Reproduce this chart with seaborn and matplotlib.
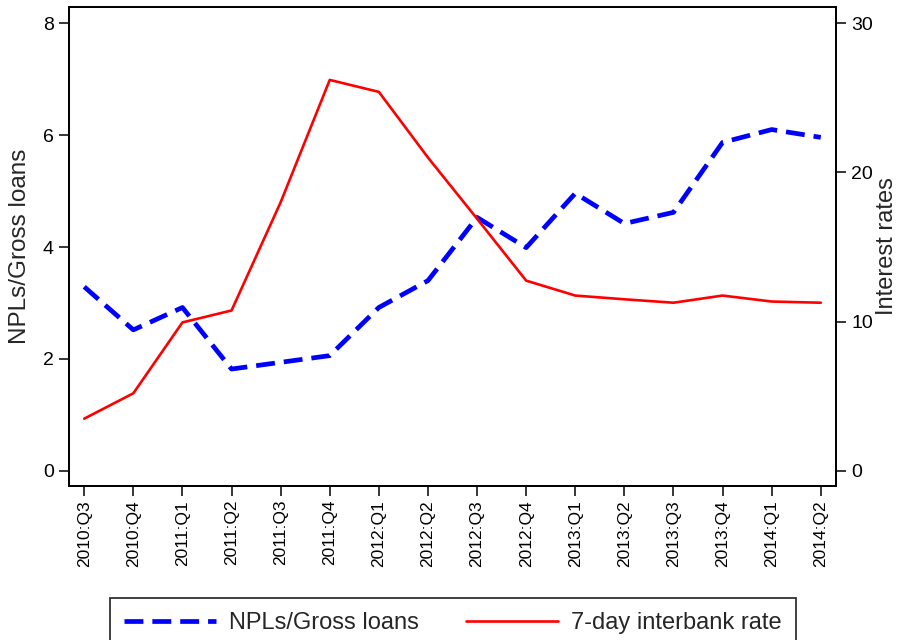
import matplotlib
matplotlib.use("Agg")
import matplotlib.pyplot as plt
import seaborn as sns
import numpy as np
import pandas as pd

quarters = ["2010:Q3", "2010:Q4", "2011:Q1", "2011:Q2", "2011:Q3", "2011:Q4",
            "2012:Q1", "2012:Q2", "2012:Q3", "2012:Q4", "2013:Q1", "2013:Q2",
            "2013:Q3", "2013:Q4", "2014:Q1", "2014:Q2"]
npl = [3.29, 2.52, 2.92, 1.82, 1.94, 2.06, 2.92, 3.40, 4.53, 3.99, 4.96, 4.42,
       4.62, 5.87, 6.10, 5.96]
rate = [3.5, 5.2, 9.95, 10.75, 18.0, 26.2, 25.4, 21.0, 16.9, 12.75, 11.75, 11.5,
        11.27, 11.75, 11.35, 11.27]
left_ticks = [0, 2, 4, 6, 8]
right_ticks = [0, 10, 20, 30]

sns.set_style("ticks")
plt.rcParams["font.family"] = ["Liberation Sans", "DejaVu Sans"]

df = pd.DataFrame({"pos": np.arange(len(quarters)), "npl": npl, "rate": rate})

fig = plt.figure(figsize=(9.01, 6.4), dpi=100)
ax = fig.add_axes([69/901, 1-486/640, (836-69)/901, (486-7)/640])
ax2 = ax.twinx()

sns.lineplot(data=df, x="pos", y="npl", ax=ax, color="#0000ff", linewidth=3.4,
             linestyle=(0, (4.0, 1.9)), label="NPLs/Gross loans", legend=False)
sns.lineplot(data=df, x="pos", y="rate", ax=ax2, color="#ff0000", linewidth=1.9,
             label="7-day interbank rate", legend=False)

ax.set_xlim(-0.31, len(quarters) - 1 + 0.31)
ax.set_ylim(-0.27, 8.29)
ax2.set_ylim(-0.27 * 3.75, 8.29 * 3.75)
ax.set_xticks(df["pos"])
ax.set_xticklabels(quarters, rotation=90, fontsize=12.5)
ax.set_yticks(left_ticks)
ax.set_yticklabels([str(t) for t in left_ticks], fontsize=14)
ax2.set_yticks(right_ticks)
ax2.set_yticklabels([str(t) for t in right_ticks], fontsize=14)
ax.set_xlabel("")
ax.set_ylabel("NPLs/Gross loans", fontsize=17.5)
ax2.set_ylabel("Interest rates", fontsize=17)
ax.yaxis.set_label_coords((31 - 69) / 767, 0.5)
ax2.yaxis.set_label_coords((876 - 69) / 767, 0.5)

for a in (ax, ax2):
    a.tick_params(direction="out", length=7, width=1.1, colors="black", pad=4)
    for s in a.spines.values():
        s.set_visible(True)
        s.set_color("black")
        s.set_linewidth(1.3)
ax.tick_params(axis="x", pad=3)

h1, l1 = ax.get_legend_handles_labels()
h2, l2 = ax2.get_legend_handles_labels()
leg = fig.legend(h1 + h2, l1 + l2, loc="upper left", bbox_to_anchor=(110/901, 1-598/640),
                 ncol=2, fontsize=17, frameon=True, fancybox=False, edgecolor="black",
                 handlelength=3.9, handletextpad=0.55, columnspacing=2.0,
                 borderpad=0.6, borderaxespad=0)
leg.get_frame().set_linewidth(1.3)

fig.savefig("out.png", dpi=100)
